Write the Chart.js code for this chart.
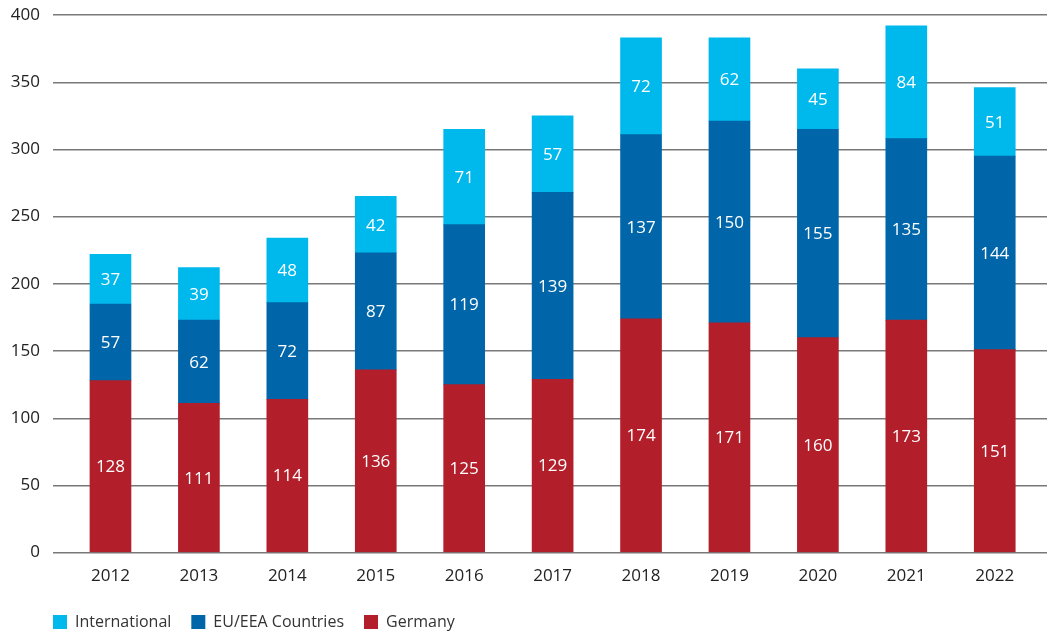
<!DOCTYPE html>
<html>
<head>
<meta charset="utf-8">
<script src="https://cdn.jsdelivr.net/npm/chart.js@4"></script>
<style>
  html, body { margin: 0; padding: 0; background: #ffffff; }
  #wrap { width: 1047px; height: 633px; position: relative; }
</style>
</head>
<body>
<div id="wrap"><canvas id="c"></canvas></div>
<script>
const years = ['2012','2013','2014','2015','2016','2017','2018','2019','2020','2021','2022'];
const germany = [128,111,114,136,125,129,174,171,160,173,151];
const euEea = [57,62,72,87,119,139,137,150,155,135,144];
const international = [37,39,48,42,71,57,72,62,45,84,51];
const yTicks = [0,50,100,150,200,250,300,350,400];

const FONT = '"Open Sans", "Noto Sans", sans-serif';

function pts(arr) { return arr.map((v, i) => ({ x: i, y: v })); }

const labelPlugin = {
  id: 'barLabels',
  afterDatasetsDraw(chart) {
    const ctx = chart.ctx;
    ctx.save();
    ctx.font = '17px ' + FONT;
    ctx.fillStyle = '#ffffff';
    ctx.textAlign = 'center';
    ctx.textBaseline = 'middle';
    chart.data.datasets.forEach((ds, di) => {
      const meta = chart.getDatasetMeta(di);
      meta.data.forEach((el, i) => {
        const v = ds.data[i].y;
        const cy = (el.y + el.base) / 2;
        ctx.fillText(String(v), el.x, cy + 1);
      });
    });
    ctx.restore();
  }
};

const legendShift = {
  id: 'legendShift',
  afterLayout(chart) {
    if (chart.legend) {
      chart.legend.left -= 20;
      chart.legend.right -= 20;
    }
  }
};

new Chart(document.getElementById('c'), {
  type: 'bar',
  data: {
    datasets: [
      { label: 'Germany', data: pts(germany), backgroundColor: '#B21E2A', barThickness: 41 },
      { label: 'EU/EEA Countries', data: pts(euEea), backgroundColor: '#0066A9', barThickness: 41 },
      { label: 'International', data: pts(international), backgroundColor: '#00B9EC', barThickness: 41 }
    ]
  },
  options: {
    responsive: true,
    maintainAspectRatio: false,
    animation: false,
    layout: { padding: { top: 15, right: 0, bottom: -7, left: 0 } },
    plugins: {
      tooltip: { enabled: false },
      legend: {
        position: 'bottom',
        align: 'start',
        fullSize: false,
        reverse: true,
        labels: {
          boxWidth: 14,
          boxHeight: 14,
          padding: 20,
          color: '#333333',
          font: { family: FONT, size: 16 }
        }
      }
    },
    scales: {
      x: {
        type: 'linear',
        stacked: true,
        offset: false,
        min: -0.650,
        max: 10.591,
        grid: { display: false },
        border: { display: false },
        afterBuildTicks(scale) { scale.ticks = years.map((y, i) => ({ value: i })); },
        afterFit(scale) { scale.height += 3; },
        ticks: {
          autoSkip: false,
          maxRotation: 0,
          padding: 5,
          color: '#222222',
          font: { family: FONT, size: 17 },
          callback: (v) => years[v]
        }
      },
      y: {
        stacked: true,
        min: 0,
        max: 400,
        afterBuildTicks(scale) { scale.ticks = yTicks.map(v => ({ value: v })); },
        afterFit(scale) { scale.width = 53; scale.paddingTop = 0; scale.paddingBottom = 0; },
        grid: { color: '#787878', lineWidth: 1.4, drawTicks: false },
        border: { display: false },
        ticks: {
          padding: 13,
          color: '#222222',
          font: { family: FONT, size: 17 }
        }
      }
    }
  },
  plugins: [labelPlugin, legendShift]
});
</script>
</body>
</html>
